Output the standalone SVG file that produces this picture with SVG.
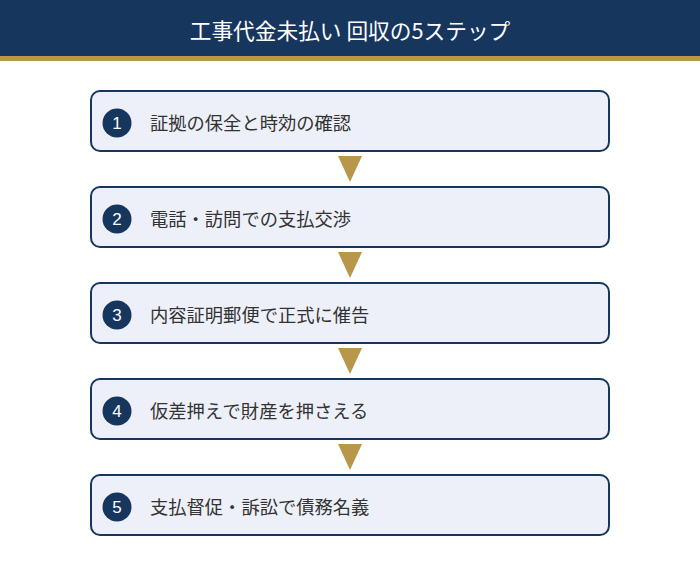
<svg xmlns="http://www.w3.org/2000/svg" width="700" height="566" viewBox="0 0 700 566">
<style>
.box{fill:#edf0f8;stroke:#17365d;stroke-width:2}
.num{fill:#17365d}
.nt{font-family:"Liberation Sans","Noto Sans CJK JP",sans-serif;font-size:17px;fill:#fff;text-anchor:middle}
.lbl{font-family:"Noto Sans CJK JP",sans-serif;font-size:18.3px;fill:#333}
.arr{fill:#b8974a}
</style>
<rect x="0" y="0" width="700" height="56" fill="#17365d"/>
<rect x="0" y="56" width="700" height="5" fill="#b8974a"/>
<text x="350" y="39" font-family="Noto Sans CJK JP,sans-serif" font-size="21.7" fill="#fff" text-anchor="middle">工事代金未払い 回収の5ステップ</text>
<g id="connectors">
<polygon class="arr" points="338,156 362,156 350,182"/>
<polygon class="arr" points="338,252 362,252 350,278"/>
<polygon class="arr" points="338,348 362,348 350,374"/>
<polygon class="arr" points="338,444 362,444 350,470"/>
</g>
<g id="step1"><rect class="box" x="91" y="91" width="518" height="60" rx="9"/><circle class="num" cx="117" cy="123" r="14.5"/><text class="nt" x="117" y="129">1</text><text class="lbl" x="150" y="129.5">証拠の保全と時効の確認</text></g>
<g id="step2"><rect class="box" x="91" y="187" width="518" height="60" rx="9"/><circle class="num" cx="117" cy="219" r="14.5"/><text class="nt" x="117" y="225">2</text><text class="lbl" x="150" y="225.5">電話・訪問での支払交渉</text></g>
<g id="step3"><rect class="box" x="91" y="283" width="518" height="60" rx="9"/><circle class="num" cx="117" cy="315" r="14.5"/><text class="nt" x="117" y="321">3</text><text class="lbl" x="150" y="321.5">内容証明郵便で正式に催告</text></g>
<g id="step4"><rect class="box" x="91" y="379" width="518" height="60" rx="9"/><circle class="num" cx="117" cy="411" r="14.5"/><text class="nt" x="117" y="417">4</text><text class="lbl" x="150" y="417.5">仮差押えで財産を押さえる</text></g>
<g id="step5"><rect class="box" x="91" y="475" width="518" height="60" rx="9"/><circle class="num" cx="117" cy="507" r="14.5"/><text class="nt" x="117" y="513">5</text><text class="lbl" x="150" y="513.5">支払督促・訴訟で債務名義</text></g>
</svg>
